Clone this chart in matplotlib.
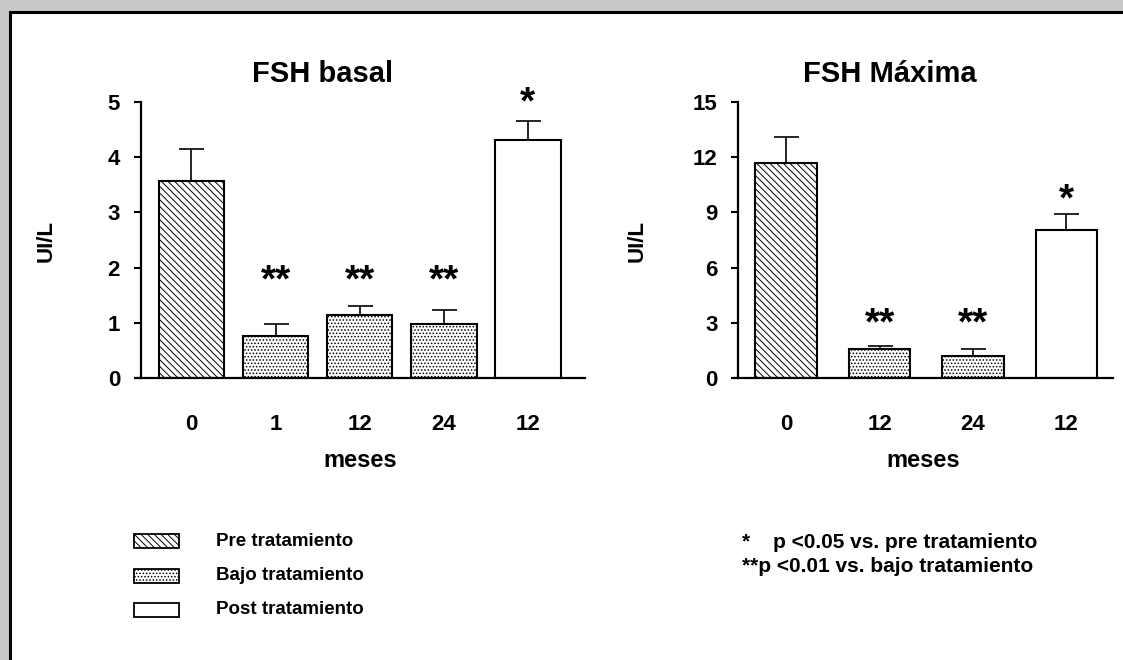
import matplotlib
matplotlib.use("Agg")
import matplotlib.pyplot as plt
from matplotlib.patches import Rectangle

plt.rcParams['font.family'] = ['Liberation Sans', 'DejaVu Sans']
plt.rcParams['font.weight'] = 'bold'
plt.rcParams['hatch.linewidth'] = 0.7

# data
basal_labels = ['0', '1', '12', '24', '12']
basal_mean = [3.56, 0.76, 1.14, 0.98, 4.31]
basal_err = [0.58, 0.22, 0.16, 0.26, 0.34]
basal_group = ['pre', 'bajo', 'bajo', 'bajo', 'post']
basal_sig = ['', '**', '**', '**', '*']

max_labels = ['0', '12', '24', '12']
max_mean = [11.7, 1.55, 1.22, 8.04]
max_err = [1.38, 0.18, 0.33, 0.88]
max_group = ['pre', 'bajo', 'bajo', 'post']
max_sig = ['', '**', '**', '*']

hatches = {'pre': '\\\\\\\\\\', 'bajo': '.....', 'post': ''}
legend_names = ['Pre tratamiento', 'Bajo tratamiento', 'Post tratamiento']

W, H = 1123, 660
fig = plt.figure(figsize=(W / 100, H / 100), dpi=100, facecolor='#c8c8c8')

# background frame, pixel coordinates
bg = fig.add_axes([0, 0, 1, 1])
bg.set_xlim(0, W)
bg.set_ylim(H, 0)
bg.axis('off')
bg.add_patch(Rectangle((9.5, 11.5), W + 20, H + 20, facecolor='white',
                       edgecolor='black', lw=2.2))

STAR = 28


def star(ax, x, y, s):
    # glyph centre sits ~0.57 em above the baseline
    ax.annotate(s, xy=(x, y), xytext=(0, -0.57 * STAR), textcoords='offset points',
                ha='center', va='baseline', fontsize=STAR, fontweight='bold',
                annotation_clip=False)


def panel(rect, labels, mean, err, group, sig, ymax, yticks, xlim, width,
          star_y2, star_y1, title, title_x, ylab_x):
    ax = fig.add_axes(rect)
    x = list(range(len(mean)))
    for i in x:
        ax.bar(i, mean[i], width=width, color='white', edgecolor='black',
               lw=1.5, hatch=hatches[group[i]], zorder=2)
    ax.errorbar(x, mean, yerr=[[0] * len(err), err], fmt='none',
                ecolor='black', elinewidth=1.2, capsize=9, capthick=1.2,
                zorder=1)
    for i in x:
        if sig[i] == '**':
            star(ax, i, star_y2, '**')
        elif sig[i] == '*':
            star(ax, i, star_y1, '*')
    ax.set_xlim(*xlim)
    ax.set_ylim(0, ymax)
    ax.set_yticks(yticks)
    ax.set_xticks(x)
    ax.set_xticklabels(labels)
    for s in ['top', 'right']:
        ax.spines[s].set_visible(False)
    ax.spines['left'].set_linewidth(1.6)
    ax.spines['bottom'].set_linewidth(1.6)
    ax.spines['left'].set_position(('axes', 0.011))
    ax.tick_params(axis='y', length=5, width=1.5, labelsize=16, pad=10)
    ax.tick_params(axis='x', length=0, labelsize=16, pad=26)
    ax.set_facecolor('none')
    ax.set_xlabel('meses', fontsize=17, fontweight='bold', labelpad=10)
    fig.text(title_x / W, 1 - 74 / H, title, ha='center', va='center',
             fontsize=21, fontweight='bold')
    fig.text(ylab_x / W, 1 - 241 / H, 'UI/L', ha='center', va='center',
             rotation=90, fontsize=16, fontweight='bold')
    return ax


panel([136 / W, 1 - 378 / H, (585 - 136) / W, 276 / H],
      basal_labels, basal_mean, basal_err, basal_group, basal_sig,
      5, [0, 1, 2, 3, 4, 5], (-0.66, 4.68), 0.78, 1.96, 5.2,
      'FSH basal', 323, 46)

panel([734 / W, 1 - 378 / H, (1113 - 734) / W, 276 / H],
      max_labels, max_mean, max_err, max_group, max_sig,
      15, [0, 3, 6, 9, 12, 15], (-0.56, 3.5), 0.66, 3.55, 10.3,
      'FSH Máxima', 890, 637)

# legend
ys = [541, 576, 610]
for name, key, y in zip(legend_names, ['pre', 'bajo', 'post'], ys):
    bg.add_patch(Rectangle((134, y - 7), 45, 14, facecolor='white',
                           edgecolor='black', lw=1.3, hatch=hatches[key]))
    bg.text(216, y, name, ha='left', va='center', fontsize=13.5,
            fontweight='bold')

bg.text(742, 542, '*', ha='left', va='center', fontsize=15, fontweight='bold')
bg.text(773, 542, 'p <0.05 vs. pre tratamiento', ha='left', va='center',
        fontsize=15, fontweight='bold')
bg.text(742, 566, '**p <0.01 vs. bajo tratamiento', ha='left', va='center',
        fontsize=15, fontweight='bold')

fig.savefig('out.png', dpi=100, facecolor=fig.get_facecolor())
